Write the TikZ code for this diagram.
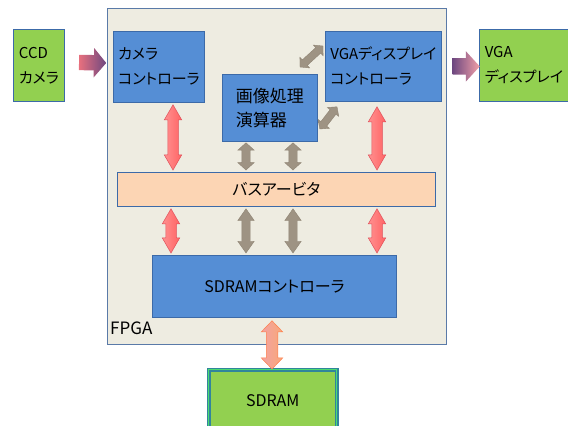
\documentclass[tikz,border=0pt]{standalone}
\usepackage{fontspec}
\setmainfont{Noto Sans CJK JP}[RawFeature=+palt]
\usetikzlibrary{shapes.arrows,calc,positioning}
\definecolor{fpgabg}{HTML}{EEECE1}
\definecolor{fpgaline}{HTML}{5A7AA8}
\definecolor{blueface}{HTML}{558ED5}
\definecolor{blueline}{HTML}{3C6AA8}
\definecolor{greenface}{HTML}{92D050}
\definecolor{busface}{HTML}{FCD5B4}
\definecolor{sdline}{HTML}{31859C}
\definecolor{redend}{HTML}{FF6464}
\definecolor{redtop}{HTML}{FF9090}
\definecolor{redmid}{HTML}{FFCACA}
\definecolor{redline}{HTML}{E0505A}
\definecolor{grayend}{HTML}{9E9383}
\definecolor{graymid}{HTML}{C9C1B5}
\definecolor{grayline}{HTML}{8F8474}
\definecolor{inleft}{HTML}{E8707E}
\definecolor{inright}{HTML}{6E4880}
\definecolor{outright}{HTML}{F2A0A8}
\definecolor{sdtop}{HTML}{F3A2A2}
\definecolor{sdbottom}{HTML}{F8A878}
% block arrow between two points: style, from, to
\newcommand{\blkarrow}[3]{%
  \path let \p1=(#2), \p2=(#3), \n1={atan2(\y2-\y1,\x2-\x1)},
    \n2={veclen(\x2-\x1,\y2-\y1)} in
    node[#1, rotate=\n1, minimum height=\n2] at ($(#2)!0.5!(#3)$) {};}

\begin{document}
\begin{tikzpicture}[x=1pt, y=-1pt,
  box/.style={draw=blueline, line width=0.8pt, fill=blueface, anchor=north west,
    inner sep=0pt, align=left, font=\fontsize{15pt}{25pt}\selectfont},
  grnbox/.style={box, fill=greenface},
  redarr/.style={double arrow, draw=redline, line width=0.5pt, inner xsep=0pt, inner ysep=5pt,
    minimum width=17pt, double arrow head extend=3.5pt, double arrow tip angle=60,
    left color=redtop, middle color=redmid, right color=redend},
  grayarr/.style={double arrow, draw=grayline, line width=0.4pt, inner xsep=0pt, inner ysep=4pt,
    minimum width=16pt, double arrow head extend=4pt, double arrow tip angle=70,
    left color=grayend, middle color=graymid, right color=grayend},
  shortarr/.style={grayarr, double arrow tip angle=96},
  sdarr/.style={redarr, draw=red!45!orange!70, inner ysep=5.5pt, minimum width=21pt,
    double arrow head extend=5pt, double arrow tip angle=88,
    left color=sdtop, middle color=white, right color=sdbottom},
  inarr/.style={single arrow, draw=none, inner xsep=0pt, inner ysep=7.5pt, minimum width=29pt,
    single arrow head extend=7pt, single arrow tip angle=100}]
\useasboundingbox (0,0) rectangle (568,426);

\node (fpga) [draw=fpgaline, line width=0.8pt, fill=fpgabg, anchor=north west,
  minimum width=339pt, minimum height=336pt] at (107,8) {};
\node (fpgalabel) [anchor=west, inner sep=0pt, font=\fontsize{17pt}{20pt}\selectfont]
  at (110,328) {FPGA};

\node (ccd) [grnbox, minimum width=51pt, minimum height=72pt] at (13,29) {CCD\\カメラ};
\node (cam) [box, minimum width=91pt, minimum height=71pt] at (113,31) {カメラ\\コントローラ};
\node (img) [box, minimum width=95pt, minimum height=67pt,
  font=\fontsize{17pt}{24pt}\selectfont] at (222,74) {画像処理\\演算器};
\node (vgactl) [box, minimum width=116pt, minimum height=70pt] at (325,31)
  {VGAディスプレイ\\コントローラ};
\node (vga) [grnbox, minimum width=89pt, minimum height=72pt] at (479,29)
  {VGA\\ディスプレイ};
\node (bus) [box, fill=busface, minimum width=318pt, minimum height=34pt, align=center,
  font=\fontsize{16pt}{20pt}\selectfont] at (117,172) {バスアービタ};
\node (sdctl) [box, minimum width=244pt, minimum height=62pt, align=center,
  font=\fontsize{16pt}{20pt}\selectfont] at (152,255) {SDRAMコントローラ};
\node (sdram) [box, fill=greenface, draw=sdline, line width=1.5pt, double=green!60!teal!70,
  double distance=1pt, minimum width=128pt, minimum height=62pt, align=center,
  font=\fontsize{16pt}{20pt}\selectfont] at (208,369) {SDRAM};

% data in / out
\blkarrow{inarr, left color=inleft, right color=inright}
  {$(ccd.east)+(11,-3)$}{$(cam.west)+(-10,-4)$}
\blkarrow{inarr, inner ysep=8pt, minimum width=30pt, single arrow tip angle=95,
  left color=inright, right color=outright}
  {$(vgactl.east)+(7,0)$}{$(vga.west)+(-3,1)$}

% bus connections
\blkarrow{redarr}{$(cam.south west)+(60,2)$}{$(bus.north west)+(56,-2)$}
\blkarrow{shortarr}{$(img.south west)+(24,1)$}{$(bus.north west)+(129,-2)$}
\blkarrow{shortarr}{$(img.south west)+(71,1)$}{$(bus.north west)+(176,-2)$}
\blkarrow{redarr}{$(vgactl.south west)+(52,5)$}{$(bus.north west)+(260,-2)$}
\blkarrow{redarr}{$(bus.south west)+(54,2)$}{$(sdctl.north west)+(19,-2)$}
\blkarrow{grayarr}{$(bus.south west)+(129,2)$}{$(sdctl.north west)+(94,-2)$}
\blkarrow{grayarr}{$(bus.south west)+(176,2)$}{$(sdctl.north west)+(141,-2)$}
\blkarrow{redarr}{$(bus.south west)+(260,2)$}{$(sdctl.north west)+(225,-2)$}
\blkarrow{sdarr}{$(sdctl.south west)+(120,3)$}{$(sdram.north west)+(64,0)$}

% image processor <-> VGA controller
\blkarrow{shortarr, inner ysep=3.5pt, minimum width=14pt, double arrow head extend=3.5pt}
  {$(img.north west)+(78,-7)$}{$(vgactl.north west)+(-2,15)$}
\blkarrow{shortarr, inner ysep=3.5pt, minimum width=14pt, double arrow head extend=3.5pt}
  {$(img.north east)+(2,55)$}{$(vgactl.south west)+(12,5)$}
\end{tikzpicture}
\end{document}
